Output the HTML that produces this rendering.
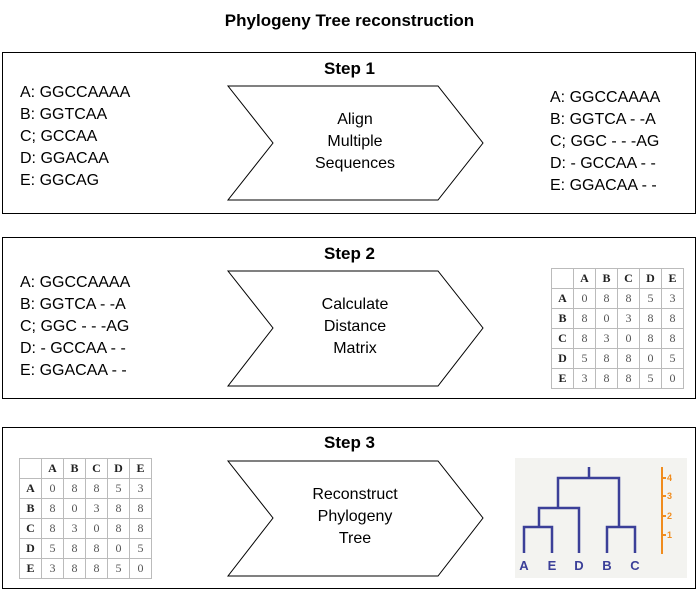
<!DOCTYPE html>
<html><head><style>
body{margin:0;width:699px;height:592px;background:#fff;position:relative;font-family:"Liberation Sans",sans-serif;overflow:hidden}
.a{position:absolute}
.box{position:absolute;left:2px;width:692px;height:160px;border:1px solid #000}
.lst{position:absolute;font-size:16px;line-height:22px;white-space:pre}
.h{position:absolute;font-weight:bold;font-size:17px;width:699px;text-align:center;left:0}
table{position:absolute;border-collapse:collapse;font-family:"Liberation Serif",serif;font-size:12px;color:#555}
td{border:1px solid #bbb;width:21px;height:19px;text-align:center;padding:0}
td.b{font-weight:bold;color:#222}
</style></head><body>
<div class="h" style="top:11px">Phylogeny Tree reconstruction</div>
<div class="box" style="top:52px"></div>
<div class="box" style="top:237px"></div>
<div class="box" style="top:427px"></div>
<div class="h" style="top:59px">Step 1</div>
<div class="h" style="top:244px">Step 2</div>
<div class="h" style="top:433px">Step 3</div>
<svg class="a" style="left:0;top:0" width="699" height="592">
<g fill="#fff" stroke="#000" stroke-width="1">
<polygon points="228,86 438,86 483,143 438,200 228,200 273,143"/>
<polygon points="228,271 438,271 483,328 438,386 228,386 273,328"/>
<polygon points="228,461 438,461 483,518 438,576 228,576 273,518"/>
</g>
<g font-size="16" text-anchor="middle" font-family="Liberation Sans">
<text x="355" y="124">Align</text><text x="355" y="146">Multiple</text><text x="355" y="168">Sequences</text>
<text x="355" y="309">Calculate</text><text x="355" y="331">Distance</text><text x="355" y="353">Matrix</text>
<text x="355" y="499">Reconstruct</text><text x="355" y="521">Phylogeny</text><text x="355" y="543">Tree</text>
</g>
<rect x="515" y="458" width="172" height="120" fill="#f3f3f0"/>
<g stroke="#3b3f98" stroke-width="2.5" fill="none">
<path d="M589 467V478M558 508V478H619V527"/>
<path d="M539 527V508H579V553"/>
<path d="M524 553V527H552V553"/>
<path d="M607 553V527H635V553"/>
</g>
<g fill="#3b3f98" font-size="13" font-weight="bold" text-anchor="middle">
<text x="524" y="570">A</text><text x="552" y="570">E</text><text x="579" y="570">D</text><text x="607" y="570">B</text><text x="635" y="570">C</text>
</g>
<g stroke="#f08c1e" stroke-width="2"><path d="M662 467V554M662 478h4M662 496h4M662 516h4M662 535h4"/></g>
<g fill="#f08c1e" font-size="9" font-weight="bold"><text x="667" y="481">4</text><text x="667" y="499">3</text><text x="667" y="519">2</text><text x="667" y="538">1</text></g>
</svg>
<div class="lst" style="left:20px;top:82px">A: GGCCAAAA
B: GGTCAA
C; GCCAA
D: GGACAA
E: GGCAG</div>
<div class="lst" style="left:550px;top:87px">A: GGCCAAAA
B: GGTCA - -A
C; GGC - - -AG
D: - GCCAA - -
E: GGACAA - -</div>
<div class="lst" style="left:20px;top:272px">A: GGCCAAAA
B: GGTCA - -A
C; GGC - - -AG
D: - GCCAA - -
E: GGACAA - -</div>
<table style="left:551px;top:268px"><tr><td></td><td class="b">A</td><td class="b">B</td><td class="b">C</td><td class="b">D</td><td class="b">E</td></tr><tr><td class="b">A</td><td>0</td><td>8</td><td>8</td><td>5</td><td>3</td></tr><tr><td class="b">B</td><td>8</td><td>0</td><td>3</td><td>8</td><td>8</td></tr><tr><td class="b">C</td><td>8</td><td>3</td><td>0</td><td>8</td><td>8</td></tr><tr><td class="b">D</td><td>5</td><td>8</td><td>8</td><td>0</td><td>5</td></tr><tr><td class="b">E</td><td>3</td><td>8</td><td>8</td><td>5</td><td>0</td></tr></table>
<table style="left:19px;top:458px"><tr><td></td><td class="b">A</td><td class="b">B</td><td class="b">C</td><td class="b">D</td><td class="b">E</td></tr><tr><td class="b">A</td><td>0</td><td>8</td><td>8</td><td>5</td><td>3</td></tr><tr><td class="b">B</td><td>8</td><td>0</td><td>3</td><td>8</td><td>8</td></tr><tr><td class="b">C</td><td>8</td><td>3</td><td>0</td><td>8</td><td>8</td></tr><tr><td class="b">D</td><td>5</td><td>8</td><td>8</td><td>0</td><td>5</td></tr><tr><td class="b">E</td><td>3</td><td>8</td><td>8</td><td>5</td><td>0</td></tr></table>
</body></html>
